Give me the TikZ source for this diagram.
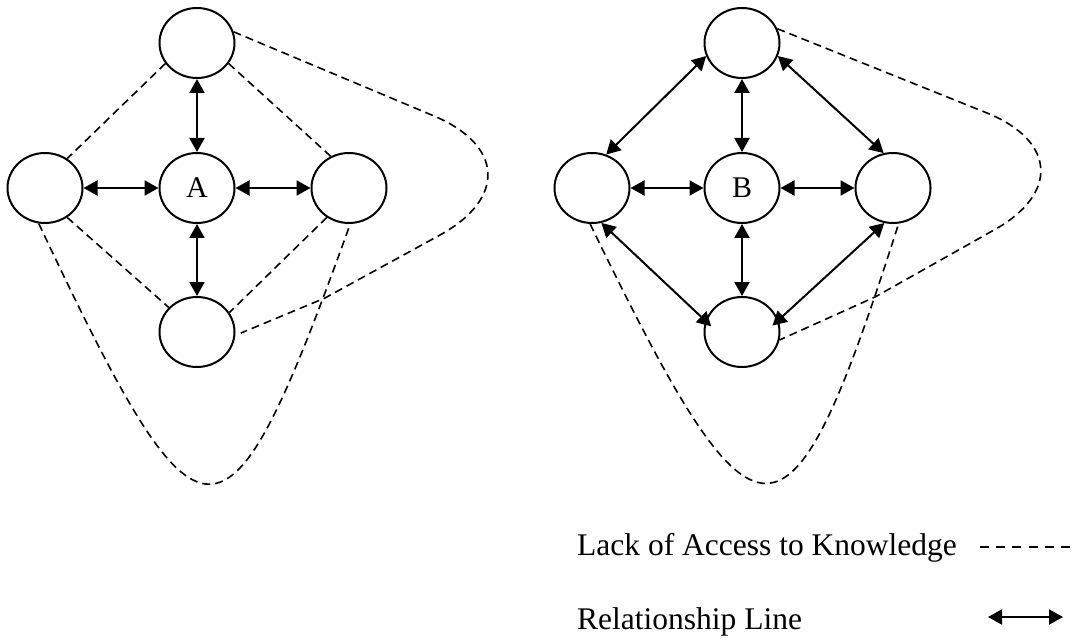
\documentclass[tikz,border=0pt]{standalone}
\usepackage{fontspec}
\setmainfont{Liberation Serif}
\usetikzlibrary{shapes.geometric,arrows.meta}
\begin{document}
\begin{tikzpicture}[x=1pt,y=-1pt,
  actor/.style={draw,ellipse,line width=2pt,minimum width=75pt,minimum height=70pt,
    inner sep=0pt,font=\fontsize{30}{36}\selectfont},
  rel/.style={line width=2pt,{Triangle[length=14pt,width=15pt]}-{Triangle[length=14pt,width=15pt]}},
  gap/.style={line width=1.6pt,dash pattern=on 8pt off 5pt},
  legendtext/.style={anchor=base west,inner sep=0pt,font=\fontsize{31.5}{38}\selectfont}]
\useasboundingbox (0,0) rectangle (1078,644);

% ---- network A ----
\node[actor] (tA) at (197,43)  {};
\node[actor] (lA) at (45,188)  {};
\node[actor] (cA) at (197,188) {A};
\node[actor] (rA) at (349,188) {};
\node[actor] (bA) at (197,332) {};

\draw[rel] (lA) -- (cA);
\draw[rel] (cA) -- (rA);
\draw[rel] (tA) -- (cA);
\draw[rel] (cA) -- (bA);

\draw[gap] (tA.-147) -- (lA.53);
\draw[gap] (tA.-33)  -- (rA.120);
\draw[gap] (lA.-53)  -- (bA.139);
\draw[gap] (rA.-127) -- (bA.31);

\coordinate (aUp)   at (434,116);
\coordinate (aDown) at (440,235);
\coordinate (aKink) at (325,298);
\draw[gap,shorten >=6pt] (tA.17) -- (aUp) .. controls (503.5,145.3) and (506.2,198.5) .. (aDown)
  -- (aKink) -- (bA.-5);
\draw[gap] (lA.-100) .. controls (203,571) and (225,571) .. (rA.-88);

% ---- network B ----
\node[actor] (tB) at (742,43)  {};
\node[actor] (lB) at (592,188) {};
\node[actor] (cB) at (742,188) {B};
\node[actor] (rB) at (893,188) {};
\node[actor] (bB) at (742,332) {};

\draw[rel] (lB) -- (cB);
\draw[rel] (cB) -- (rB);
\draw[rel] (tB) -- (cB);
\draw[rel] (cB) -- (bB);
\draw[rel] (tB.200) -- (lB.67);
\draw[rel] (tB.-20) -- (rB.105);
\draw[rel,shorten >=-8pt] (lB.-75) -- (bB.163);
\draw[rel,shorten >=-8pt] (rB.-104) -- (bB.18);

\coordinate (bUp)   at (987,113);
\coordinate (bDown) at (994,230);
\coordinate (bKink) at (875,297);
\draw[gap] (tB.22) -- (bUp) .. controls (1056,141) and (1059,194) .. (bDown)
  -- (bKink) -- (bB.-12);
\draw[gap] (lB.-93) .. controls (758,570) and (788,570) .. (rB.-81);

% ---- legend ----
\node[legendtext] (k1) at (577,555) {Lack of Access to Knowledge};
\node[legendtext] (k2) at (577,629) {Relationship Line};
\coordinate (d1) at (980,547);
\coordinate (d2) at (1070,547);
\coordinate (r1) at (988,617);
\coordinate (r2) at (1063,617);
\draw[gap,dash pattern=on 9pt off 7.2pt] (d1) -- (d2);
\draw[rel] (r1) -- (r2);
\end{tikzpicture}
\end{document}
